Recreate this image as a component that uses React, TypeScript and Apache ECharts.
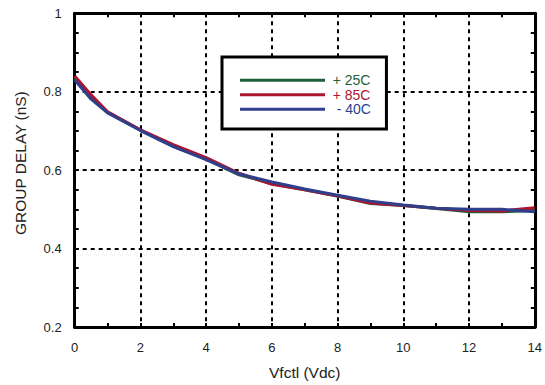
import React, { useEffect, useRef } from 'react';
import * as echarts from 'echarts';

const vfctl = [0, 0.5, 1, 2, 3, 4, 5, 6, 7, 8, 9, 10, 11, 12, 13, 14];
const delayP25 = [0.835, 0.787, 0.748, 0.702, 0.661, 0.628, 0.588, 0.566, 0.550, 0.534, 0.515, 0.510, 0.502, 0.494, 0.494, 0.497];
const delayP85 = [0.840, 0.792, 0.749, 0.703, 0.665, 0.632, 0.592, 0.564, 0.550, 0.534, 0.516, 0.510, 0.503, 0.497, 0.496, 0.504];
const delayM40 = [0.830, 0.781, 0.746, 0.701, 0.660, 0.627, 0.590, 0.570, 0.552, 0.536, 0.521, 0.511, 0.503, 0.500, 0.500, 0.494];
const seriesNames = ['+ 25C', '+ 85C', '- 40C'];
const seriesColors = ['#1e5f3b', '#ab1530', '#2e3f8c'];
const seriesValues = [delayP25, delayP85, delayM40];

const FONT = '"Liberation Sans", Arial, Helvetica, sans-serif';

export default function App() {
  const ref = useRef<HTMLDivElement>(null);
  useEffect(() => {
    const chart = echarts.init(ref.current!, null, { renderer: 'svg' });
    const tickCommon = {
      axisLine: { show: true, onZero: false, lineStyle: { color: '#000', width: 3 } },
      axisTick: { show: true, inside: true, length: 4, lineStyle: { color: '#000', width: 2 } },
    };
    const labelStyle = { fontSize: 13, color: '#222', fontFamily: FONT };
    const option = {
      animation: false,
      backgroundColor: '#fff',
      grid: { left: 74.7, right: 8.5, top: 13.3, bottom: 56.5, containLabel: false },
      legend: {
        show: true,
        orient: 'vertical',
        left: 222,
        top: 57,
        icon: 'rect',
        itemWidth: 85,
        itemHeight: 3,
        itemGap: 0.5,
        padding: [16.3, 15.5, 12.7, 18],
        borderColor: '#000',
        borderWidth: 3,
        backgroundColor: '#fff',
        selectedMode: false,
        formatter: (name: string) => (name.startsWith('-') ? `{m|${name}}` : name),
        textStyle: {
          fontSize: 14,
          fontFamily: FONT,
          lineHeight: 14,
          padding: [0, 0, 0, 2.7],
          rich: { m: { fontSize: 14, fontFamily: FONT, lineHeight: 14, padding: [0, 0, 0, 4] } },
        },
        data: seriesNames.map((n, i) => ({ name: n, textStyle: { color: seriesColors[i] } })),
      },
      xAxis: [
        {
          type: 'value', min: 0, max: 14, interval: 2, position: 'bottom',
          ...tickCommon,
          minorTick: { show: true, splitNumber: 2, length: 4, lineStyle: { color: '#000', width: 2 } },
          splitLine: { show: true, lineStyle: { type: [4, 4], color: '#000', width: 2 } },
          axisLabel: { ...labelStyle, margin: 14 },
          name: 'Vfctl (Vdc)', nameLocation: 'middle', nameGap: 37,
          nameTextStyle: { ...labelStyle, fontSize: 15.5 },
        },
        {
          type: 'value', min: 0, max: 14, interval: 2, position: 'top',
          ...tickCommon,
          minorTick: { show: true, splitNumber: 2, length: 4, lineStyle: { color: '#000', width: 2 } },
          splitLine: { show: false },
          axisLabel: { show: false },
        },
      ],
      yAxis: [
        {
          type: 'value', min: 0.2, max: 1, interval: 0.2, position: 'left',
          ...tickCommon,
          minorTick: { show: true, splitNumber: 4, length: 4, lineStyle: { color: '#000', width: 2 } },
          splitLine: { show: true, lineStyle: { type: [4, 4], color: '#000', width: 2 } },
          axisLabel: { ...labelStyle, margin: 13 },
          name: 'GROUP DELAY (nS)', nameLocation: 'middle', nameGap: 46.5,
          nameTextStyle: { ...labelStyle, fontSize: 15.5, padding: [0, 0, 0, 14] },
        },
        {
          type: 'value', min: 0.2, max: 1, interval: 0.2, position: 'right',
          ...tickCommon,
          minorTick: { show: true, splitNumber: 4, length: 4, lineStyle: { color: '#000', width: 2 } },
          splitLine: { show: false },
          axisLabel: { show: false },
        },
      ],
      series: seriesNames.map((n, i) => ({
        name: n,
        type: 'line',
        xAxisIndex: 0,
        yAxisIndex: 0,
        symbol: 'none',
        smooth: false,
        color: seriesColors[i],
        lineStyle: { color: seriesColors[i], width: 3 },
        data: vfctl.map((x, j) => [x, seriesValues[i][j]]),
      })),
    };
    chart.setOption(option as any);
    return () => chart.dispose();
  }, []);
  return <div ref={ref} style={{ position: 'fixed', left: 0, top: 0, width: 545, height: 385 }} />;
}
